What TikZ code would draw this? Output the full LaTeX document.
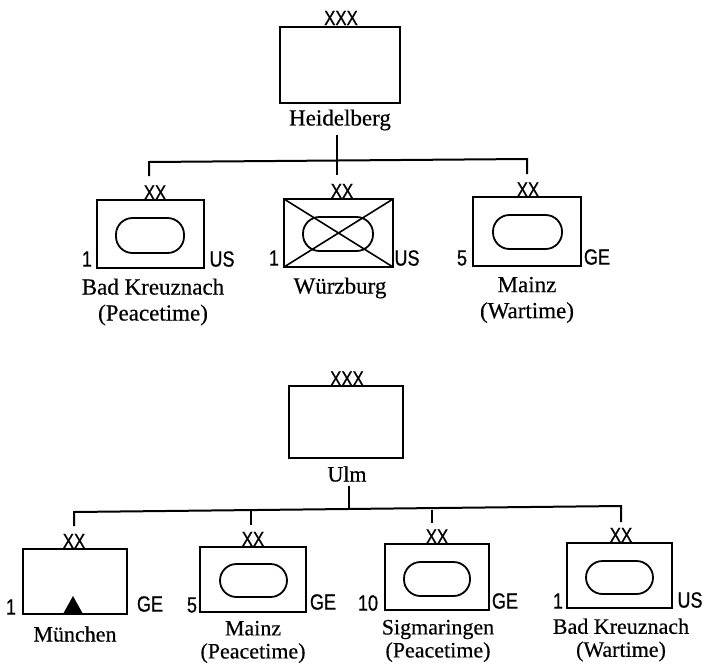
\documentclass[tikz,border=0pt]{standalone}
\usepackage{fontspec}
\setmainfont[FakeBold=0.4]{Liberation Serif}
\newfontfamily\lsans[FakeStretch=0.82,FakeBold=0.6]{Liberation Sans}
\tikzset{
  ln/.style={line width=2pt,black},
  thinln/.style={line width=1.6pt,black},
  ubox/.style={draw,line width=2pt,inner sep=0pt,outer sep=0pt,fill=white},
  oval/.style={draw,line width=1.8pt,inner sep=0pt,outer sep=0pt,rounded corners=16.5pt},
  sym/.style={font=\lsans\fontsize{22}{22}\selectfont,inner sep=0pt},
  echelon/.style={font=\lsans\fontsize{20.5}{20.5}\selectfont,inner sep=0pt},
  place/.style={font=\fontsize{23}{26}\selectfont,inner sep=0pt,align=center},
  placeb/.style={font=\fontsize{22}{23}\selectfont,inner sep=0pt,align=center},
}
\newcommand\ubox[5]{\node[ubox,minimum width={(#4-#2)*1pt},minimum height={(#5-#3)*1pt}] (#1) at ({(#2+#4)/2},{(#3+#5)/2}) {};}
\newcommand\ovalbox[5]{\node[oval,minimum width={(#4-#2)*1pt},minimum height={(#5-#3)*1pt}] (#1) at ({(#2+#4)/2},{(#3+#5)/2}) {};}
\begin{document}
\begin{tikzpicture}[x=1pt,y=-1pt]
\useasboundingbox (0,0) rectangle (704,664);
% Heidelberg
\ubox{hq}{280}{27}{400}{103}
\node[echelon] (hqx) at (341,18) {XXX};
\node[place] (hqn) at (340,120) {Heidelberg};
\coordinate (hqa) at (337,135);
\coordinate (hqb) at (337,175);
\coordinate (hl) at (149,162);
\coordinate (hr) at (527,159);
\coordinate (hld) at (149,176);
\coordinate (hrd) at (527,174);
\draw[thinln] (hqa) -- (hqb);
\draw[ln] (hld) -- (hl) -- (hr) -- (hrd);
% Bad Kreuznach
\ubox{a}{97}{200}{204}{268}
\ovalbox{ao}{116}{218}{184}{253}
\node[echelon] (ax) at (155,192.5) {XX};
\node[sym] (a1) at (87,259) {1};
\node[sym] (au) at (222,259) {US};
\node[place] (an) at (153,302) {Bad Kreuznach\\(Peacetime)};
% Wurzburg
\ubox{b}{284}{199}{393}{267}
\ovalbox{bo}{303}{217}{373}{251}
\draw[thinln] (b.north west) -- (b.south east) (b.south west) -- (b.north east);
\node[echelon] (bx) at (342,191) {XX};
\node[sym] (b1) at (274,258) {1};
\node[sym] (bu) at (407,258) {US};
\node[place] (bn) at (340,288) {Würzburg};
% Mainz
\ubox{c}{473}{197}{581}{266}
\ovalbox{co}{493}{215}{562}{249}
\node[echelon] (cx) at (528,189.5) {XX};
\node[sym] (c1) at (462,258) {5};
\node[sym] (cu) at (597,257) {GE};
\node[place] (cn) at (527,300) {Mainz\\(Wartime)};
% Ulm
\ubox{u}{289}{386}{403}{458}
\node[echelon] (ux) at (347,378.5) {XXX};
\node[placeb] (un) at (347,474) {Ulm};
\coordinate (ua) at (349,486);
\coordinate (ub) at (349,508);
\coordinate (ul) at (74,512);
\coordinate (ur) at (621,506);
\coordinate (uld) at (74,526);
\coordinate (urd) at (621,522);
\coordinate (um1) at (251,511);
\coordinate (um1d) at (251,525);
\coordinate (um2) at (432,510);
\coordinate (um2d) at (432,523);
\draw[thinln] (ua) -- (ub);
\draw[ln] (uld) -- (ul) -- (ur) -- (urd);
\draw[thinln] (um1) -- (um1d);
\draw[thinln] (um2) -- (um2d);
% Munchen
\ubox{d}{23}{549}{127}{614}
\fill (73,596) coordinate (dt) -- (63,614) -- (83,614) -- cycle;
\node[echelon] (dx) at (74,541) {XX};
\node[sym] (d1) at (11,607) {1};
\node[sym] (du) at (150,604) {GE};
\node[placeb] (dn) at (75,634) {München};
% Mainz
\ubox{e}{200}{547}{306}{612}
\ovalbox{eo}{220}{564}{287}{597}
\node[echelon] (ex) at (253,539) {XX};
\node[sym] (e1) at (192,605) {5};
\node[sym] (eu) at (323,602) {GE};
\node[placeb] (en) at (253,642) {Mainz\\(Peacetime)};
% Sigmaringen
\ubox{f}{385}{544}{489}{610}
\ovalbox{fo}{404}{562}{470}{596}
\node[echelon] (fx) at (437,536.5) {XX};
\node[sym] (f1) at (368,603) {10};
\node[sym] (fu) at (505,601) {GE};
\node[placeb] (fn) at (438,641) {Sigmaringen\\(Peacetime)};
% Bad Kreuznach
\ubox{g}{567}{543}{672}{608}
\ovalbox{go}{586}{561}{653}{594}
\node[echelon] (gx) at (621,535) {XX};
\node[sym] (g1) at (558,601) {1};
\node[sym] (gu) at (690,600) {US};
\node[placeb] (gn) at (621,640) {Bad Kreuznach\\(Wartime)};
\end{tikzpicture}
\end{document}
